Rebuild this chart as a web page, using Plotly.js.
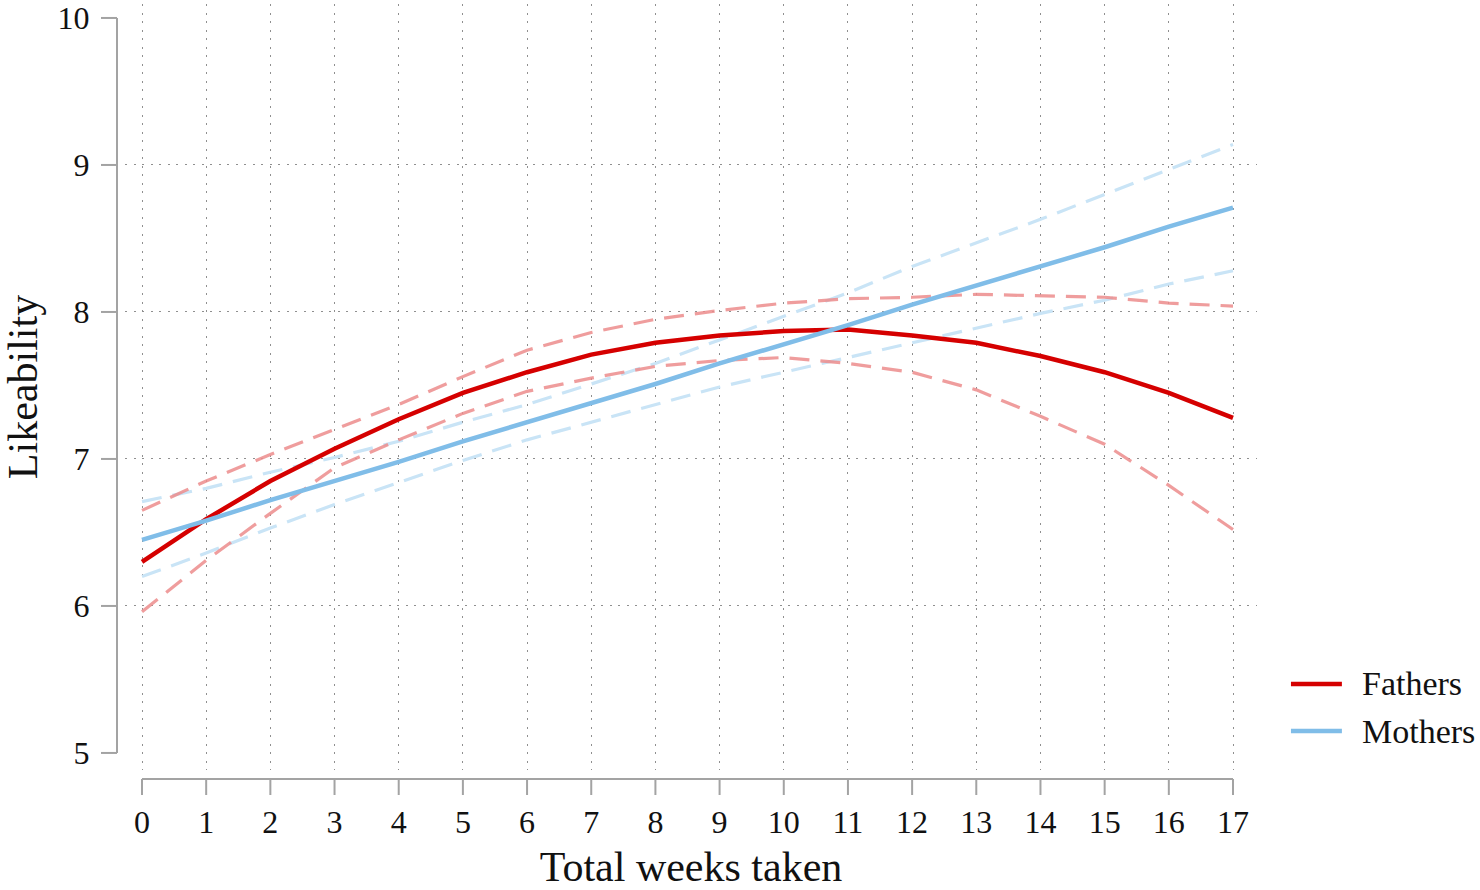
<!DOCTYPE html>
<html>
<head>
<meta charset="utf-8">
<script src="https://cdn.plot.ly/plotly-3.0.1.min.js"></script>
<style>
  html, body { margin: 0; padding: 0; background: #ffffff; }
  #chart { width: 1480px; height: 890px; }
</style>
</head>
<body>
<div id="chart"></div>
<script>
// ---- data ----
const weeks = [0, 1, 2, 3, 4, 5, 6, 7, 8, 9, 10, 11, 12, 13, 14, 15, 16, 17];

const fathers      = [6.30, 6.59, 6.85, 7.07, 7.27, 7.45, 7.59, 7.71, 7.79, 7.84, 7.87, 7.88, 7.84, 7.79, 7.70, 7.59, 7.45, 7.28];
const fathersUpper = [6.65, 6.85, 7.03, 7.20, 7.37, 7.56, 7.74, 7.86, 7.95, 8.01, 8.06, 8.09, 8.10, 8.12, 8.11, 8.10, 8.06, 8.04];
const fathersLower = [5.96, 6.31, 6.63, 6.94, 7.13, 7.31, 7.46, 7.55, 7.63, 7.67, 7.69, 7.65, 7.59, 7.47, 7.29, 7.10, 6.82, 6.52];

const mothers      = [6.45, 6.58, 6.72, 6.85, 6.98, 7.12, 7.25, 7.38, 7.51, 7.65, 7.78, 7.91, 8.05, 8.18, 8.31, 8.44, 8.58, 8.71];
const mothersUpper = [6.71, 6.80, 6.91, 7.01, 7.12, 7.25, 7.37, 7.51, 7.65, 7.81, 7.97, 8.13, 8.31, 8.47, 8.63, 8.80, 8.97, 9.14];
const mothersLower = [6.20, 6.36, 6.53, 6.69, 6.84, 6.99, 7.13, 7.25, 7.37, 7.49, 7.59, 7.69, 7.79, 7.89, 7.99, 8.08, 8.19, 8.28];

const xTicks = [0, 1, 2, 3, 4, 5, 6, 7, 8, 9, 10, 11, 12, 13, 14, 15, 16, 17];
const yTicks = [5, 6, 7, 8, 9, 10];
const yGrid  = [6, 7, 8, 9];

const seriesNames = ['Fathers', 'Mothers'];
const xTitle = 'Total weeks taken';
const yTitle = 'Likeability';

// ---- style ----
const FONT = '"Liberation Serif", "DejaVu Serif", serif';
const RED = '#d50000';
const RED_CI = 'rgba(236,140,140,0.85)';
const BLUE = '#80bde8';
const BLUE_CI = '#c9e4f6';
const AXIS_GRAY = '#a3a3a3';
const DASH = '20px,11px';

const traces = [
  { x: weeks, y: mothersUpper, mode: 'lines', line: { color: BLUE_CI, width: 3.2, dash: DASH }, showlegend: false, hoverinfo: 'skip' },
  { x: weeks, y: mothersLower, mode: 'lines', line: { color: BLUE_CI, width: 3.2, dash: DASH }, showlegend: false, hoverinfo: 'skip' },
  { x: weeks, y: fathersUpper, mode: 'lines', line: { color: RED_CI, width: 3.2, dash: DASH }, showlegend: false, hoverinfo: 'skip' },
  { x: weeks, y: fathersLower, mode: 'lines', line: { color: RED_CI, width: 3.2, dash: DASH }, showlegend: false, hoverinfo: 'skip' },
  { x: weeks, y: fathers, name: seriesNames[0], mode: 'lines', line: { color: RED, width: 4.5 }, showlegend: false },
  { x: weeks, y: mothers, name: seriesNames[1], mode: 'lines', line: { color: BLUE, width: 4.5 }, showlegend: false }
];

// axis lines & ticks (detached, drawn as shapes offset in pixels from the plot area)
const shapes = [];
shapes.push({ type: 'line', xref: 'paper', xsizemode: 'pixel', xanchor: 0, x0: -8, x1: -8,
              yref: 'y', y0: yTicks[0], y1: yTicks[yTicks.length - 1], line: { color: AXIS_GRAY, width: 2 } });
yTicks.forEach(v => shapes.push({ type: 'line', xref: 'paper', xsizemode: 'pixel', xanchor: 0, x0: -24, x1: -8,
              yref: 'y', y0: v, y1: v, line: { color: AXIS_GRAY, width: 2 } }));
shapes.push({ type: 'line', xref: 'x', x0: xTicks[0], x1: xTicks[xTicks.length - 1],
              yref: 'paper', ysizemode: 'pixel', yanchor: 0, y0: -9, y1: -9, line: { color: AXIS_GRAY, width: 2 } });
xTicks.forEach(v => shapes.push({ type: 'line', xref: 'x', x0: v, x1: v,
              yref: 'paper', ysizemode: 'pixel', yanchor: 0, y0: -9, y1: -25, line: { color: AXIS_GRAY, width: 2 } }));

// manual legend (long line samples like the reference)
const legendColors = [RED, BLUE];
const annotations = [];
seriesNames.forEach((name, i) => {
  const yPaper = 0.1123 - i * 0.0614;
  shapes.push({ type: 'line', xref: 'paper', yref: 'paper', x0: 1.030, x1: 1.075, y0: yPaper, y1: yPaper,
                line: { color: legendColors[i], width: 4.5 } });
  annotations.push({ xref: 'paper', yref: 'paper', x: 1.091, y: yPaper, xanchor: 'left', yanchor: 'middle',
                     text: name, showarrow: false, font: { family: FONT, size: 34, color: '#111' } });
});

const layout = {
  width: 1480, height: 890,
  margin: { l: 125, r: 223, t: 4, b: 120, pad: 0 },
  paper_bgcolor: '#ffffff', plot_bgcolor: '#ffffff',
  showlegend: false,
  font: { family: FONT, color: '#111' },
  xaxis: {
    range: [-0.265, 17.374], tickmode: 'array', tickvals: xTicks, ticktext: xTicks.map(String),
    showgrid: true, gridcolor: '#8f8f8f', gridwidth: 1, griddash: '2px,6.5px',
    zeroline: false, showline: false,
    ticks: 'outside', ticklen: 24, tickcolor: 'rgba(0,0,0,0)',
    tickfont: { family: FONT, size: 32, color: '#111' },
    title: { text: xTitle, font: { family: FONT, size: 42, color: '#111' }, standoff: 28 },
    automargin: false, fixedrange: true
  },
  yaxis: {
    range: [4.884, 10.095], tickmode: 'array', tickvals: yTicks, ticktext: yTicks.map(String),
    showgrid: false, zeroline: false, showline: false,
    minor: { tickmode: 'array', tickvals: yGrid, showgrid: true, gridcolor: '#8f8f8f', gridwidth: 1, griddash: '2px,6.5px', ticks: '' },
    ticks: 'outside', ticklen: 28, tickcolor: 'rgba(0,0,0,0)',
    tickfont: { family: FONT, size: 32, color: '#111' },
    title: { text: yTitle, font: { family: FONT, size: 42, color: '#111' }, standoff: 20 },
    automargin: false, fixedrange: true
  },
  shapes: shapes,
  annotations: annotations
};

Plotly.newPlot('chart', traces, layout, { displayModeBar: false, staticPlot: true });
</script>
</body>
</html>
